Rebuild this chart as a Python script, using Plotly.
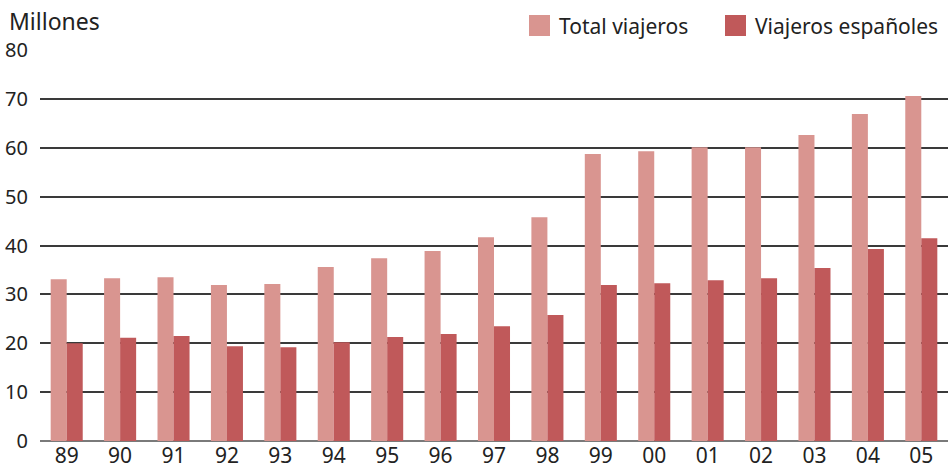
import plotly.graph_objects as go

years = ["89", "90", "91", "92", "93", "94", "95", "96", "97", "98", "99",
         "00", "01", "02", "03", "04", "05"]
total_viajeros = [33.1, 33.3, 33.5, 31.9, 32.1, 35.6, 37.4, 38.9, 41.7, 45.8, 58.7,
                  59.3, 60.1, 60.1, 62.6, 66.9, 70.6]
viajeros_espanoles = [20.0, 21.1, 21.5, 19.4, 19.2, 20.2, 21.3, 21.9, 23.5, 25.8, 31.9,
                      32.3, 32.9, 33.3, 35.4, 39.3, 41.5]
y_ticks = [0, 10, 20, 30, 40, 50, 60, 70, 80]

c_total = "#D99590"
c_esp = "#C0595A"
font = "Noto Sans, Liberation Sans, Arial, sans-serif"
txt = "#222222"

W, H = 951, 470
L, R, T, B = 40, 3, 50, 29
PW = W - L - R
PH = H - T - B

fig = go.Figure()
fig.add_trace(go.Bar(x=years, y=total_viajeros, name="Total viajeros",
                     marker=dict(color=c_total, line=dict(width=0))))
fig.add_trace(go.Bar(x=years, y=viajeros_espanoles, name="Viajeros españoles",
                     marker=dict(color=c_esp, line=dict(width=0))))

fig.update_layout(
    width=W, height=H,
    margin=dict(l=L, r=R, t=T, b=B, autoexpand=False),
    paper_bgcolor="white", plot_bgcolor="white",
    barmode="group", bargap=0.4, bargroupgap=0,
    showlegend=False,
    font=dict(family=font, color=txt, size=20),
    xaxis=dict(type="category", showgrid=False, ticks="", showline=False,
               tickfont=dict(size=21, color=txt), ticklabelstandoff=0),
    yaxis=dict(range=[0, 80], tickvals=y_ticks, showgrid=True,
               gridcolor="#3a3a3a", gridwidth=1.5,
               zeroline=True, zerolinecolor="#7a7a7a", zerolinewidth=2,
               ticks="", showline=False, ticklabelstandoff=11,
               tickfont=dict(size=20, color=txt)),
)


def px_x(px):
    return (px - L) / PW


def px_y(py):
    return (H - B - py) / PH


fig.add_annotation(text="Millones", xref="paper", yref="paper", x=px_x(7), y=px_y(21),
                   xanchor="left", yanchor="middle", showarrow=False,
                   font=dict(size=23, color=txt, family=font))

# custom legend
legend_items = [("Total viajeros", c_total, 529), ("Viajeros españoles", c_esp, 725)]
for label, col, px in legend_items:
    fig.add_shape(type="rect", xref="paper", yref="paper",
                  x0=px_x(px), x1=px_x(px + 21),
                  y0=px_y(36), y1=px_y(15),
                  fillcolor=col, line=dict(width=0))
    fig.add_annotation(text=label, xref="paper", yref="paper", x=px_x(px + 28), y=px_y(25.5),
                       xanchor="left", yanchor="middle", showarrow=False,
                       font=dict(size=21, color=txt, family=font))

fig.write_html("out.html", config={"displayModeBar": False},
               post_script="document.body.style.margin='0px';")
